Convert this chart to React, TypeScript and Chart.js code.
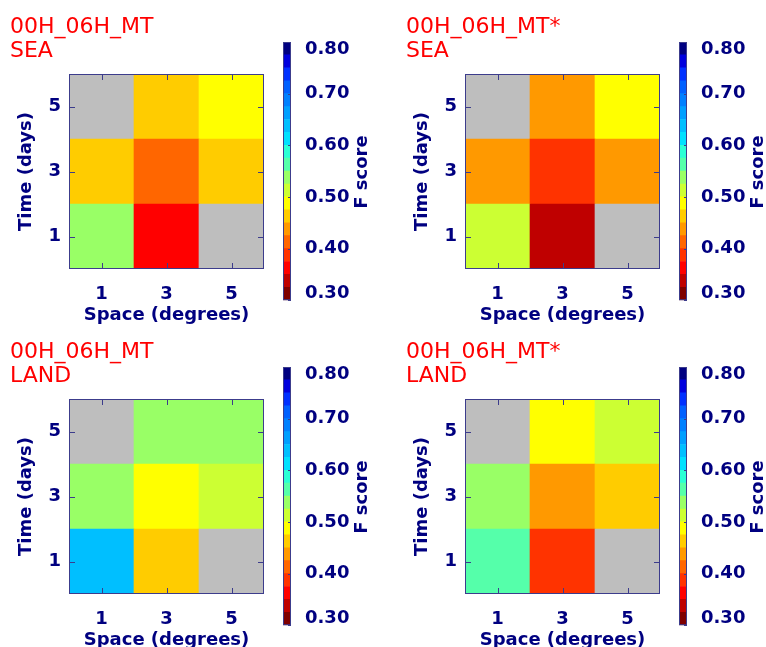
import React, { useEffect, useRef } from 'react';
import { Chart, registerables } from 'chart.js';
Chart.register(...registerables);

// ---- data ----
const spaceLabels = ['1', '3', '5'];
const timeLabels = ['1', '3', '5'];
const cbTicks = [0.3, 0.4, 0.5, 0.6, 0.7, 0.8];
const cbMin = 0.3;
const cbStep = 0.025;
const palette = [
  '#7f0000', '#bf0000', '#ff0000', '#ff3300', '#ff6600',
  '#ff9900', '#ffcc00', '#ffff00', '#ccff33', '#99ff66',
  '#55ffaa', '#2affd5', '#00e0ff', '#00bfff', '#009fff',
  '#0080ff', '#0060ff', '#0030ff', '#0000dd', '#000080',
];
const missingColor = '#bebebe';

// rows: time 1, 3, 5 ; columns: space 1, 3, 5 ; null = no data
const seaMT_t1 = [0.54, 0.36, null];
const seaMT_t3 = [0.46, 0.41, 0.46];
const seaMT_t5 = [null, 0.47, 0.49];

const seaMTs_t1 = [0.51, 0.34, null];
const seaMTs_t3 = [0.44, 0.39, 0.44];
const seaMTs_t5 = [null, 0.44, 0.49];

const landMT_t1 = [0.64, 0.46, null];
const landMT_t3 = [0.54, 0.49, 0.51];
const landMT_t5 = [null, 0.54, 0.54];

const landMTs_t1 = [0.56, 0.39, null];
const landMTs_t3 = [0.54, 0.44, 0.46];
const landMTs_t5 = [null, 0.49, 0.51];

const navy = '#000080';
const frameColor = '#3c3c8c';
const axisFont = { family: 'DejaVu Sans', size: 18, weight: 'bold' as const };

function colorFor(v: number | null): string {
  if (v === null || v === undefined) return missingColor;
  let k = Math.floor((v - cbMin) / cbStep + 1e-9);
  if (k < 0) k = 0;
  if (k > palette.length - 1) k = palette.length - 1;
  return palette[k];
}

const framePlugin = {
  id: 'frame',
  afterDatasetsDraw(chart: any) {
    const { ctx, chartArea: a, scales } = chart;
    ctx.save();
    ctx.strokeStyle = frameColor;
    ctx.lineWidth = 1;
    ctx.strokeRect(a.left + 0.5, a.top + 0.5, a.right - a.left - 1, a.bottom - a.top - 1);
    ctx.beginPath();
    spaceLabels.forEach((_, i) => {
      const x = Math.round(scales.x.getPixelForValue(i)) + 0.5;
      ctx.moveTo(x, a.bottom); ctx.lineTo(x, a.bottom - 6);
      ctx.moveTo(x, a.top); ctx.lineTo(x, a.top + 6);
    });
    timeLabels.forEach((_, i) => {
      const y = Math.round(scales.y.getPixelForValue(i + 0.5)) + 0.5;
      ctx.moveTo(a.left, y); ctx.lineTo(a.left + 6, y);
      ctx.moveTo(a.right, y); ctx.lineTo(a.right - 6, y);
    });
    ctx.stroke();
    ctx.restore();
  },
};

function makeTitlePlugin(line1: string, line2: string) {
  return {
    id: 'panelTitle',
    afterDraw(chart: any) {
      const { ctx } = chart;
      ctx.save();
      ctx.fillStyle = '#ff0000';
      ctx.font = '22px "DejaVu Sans"';
      ctx.textAlign = 'left';
      ctx.textBaseline = 'alphabetic';
      ctx.fillText(line1, 10, 33);
      ctx.fillText(line2, 10, 57);
      ctx.restore();
    },
  };
}

const cbPlugin = {
  id: 'cbExtras',
  beforeDraw(chart: any) {
    const s = chart.scales.y;
    const items = s.getLabelItems();
    if (items && items.length && !(items as any)._nudged) {
      items[0].options.translation[1] -= 7;
      items[items.length - 1].options.translation[1] += 7;
      (items as any)._nudged = true;
    }
  },
  afterDraw(chart: any) {
    const { ctx, chartArea: a, scales } = chart;
    ctx.save();
    ctx.strokeStyle = frameColor;
    ctx.lineWidth = 1;
    ctx.strokeRect(a.left + 0.5, a.top + 0.5, a.right - a.left - 1, a.bottom - a.top - 1);
    ctx.beginPath();
    cbTicks.forEach((v) => {
      const y = Math.round(scales.y.getPixelForValue(v)) + 0.5;
      ctx.moveTo(a.right, y); ctx.lineTo(a.right - 3, y);
    });
    ctx.stroke();
    ctx.fillStyle = navy;
    ctx.font = 'bold 18px "DejaVu Sans"';
    ctx.textAlign = 'center';
    ctx.textBaseline = 'middle';
    ctx.translate(92, 172);
    ctx.rotate(-Math.PI / 2);
    ctx.fillText('F score', 0, 0);
    ctx.restore();
  },
};

function Panel(props: { line1: string; line2: string; rows: (number | null)[][]; left: number; top: number }) {
  const heatRef = useRef<HTMLCanvasElement>(null);
  const barRef = useRef<HTMLCanvasElement>(null);
  const { line1, line2, rows, left, top } = props;

  useEffect(() => {
    const heat = new Chart(heatRef.current as HTMLCanvasElement, {
      type: 'bar',
      data: {
        labels: spaceLabels,
        datasets: timeLabels.map((t, r) => ({
          label: 'Time ' + t,
          data: spaceLabels.map(() => [r, r + 1]) as any,
          backgroundColor: spaceLabels.map((_, c) => colorFor(rows[r][c])),
          borderWidth: 0,
          barPercentage: 1,
          categoryPercentage: 1,
          grouped: false,
        })),
      },
      options: {
        responsive: false,
        animation: false,
        devicePixelRatio: 1,
        layout: { padding: { left: 0, top: 74, right: 36, bottom: 0 } },
        plugins: { legend: { display: false }, tooltip: { enabled: false } },
        scales: {
          x: {
            type: 'category',
            offset: true,
            grid: { display: false, drawTicks: false },
            border: { display: false },
            ticks: { color: navy, font: axisFont, padding: 15, maxRotation: 0 },
            title: { display: true, text: 'Space (degrees)', color: navy, font: axisFont, padding: { top: 0, bottom: -1 } },
            afterFit: (s: any) => { s.height = 56; },
          },
          y: {
            type: 'linear',
            min: 0,
            max: 3,
            grid: { display: false, drawTicks: false },
            border: { display: false },
            afterBuildTicks: (s: any) => { s.ticks = timeLabels.map((_, i) => ({ value: i + 0.5 })); },
            ticks: {
              color: navy,
              font: axisFont,
              padding: 8,
              callback: (v: any) => timeLabels[Math.floor(Number(v))],
            },
            title: { display: true, text: 'Time (days)', color: navy, font: axisFont, padding: { top: 16, bottom: 0 } },
            afterFit: (s: any) => { s.width = 69; },
          },
        },
      },
      plugins: [framePlugin, makeTitlePlugin(line1, line2)],
    } as any);

    const cb = new Chart(barRef.current as HTMLCanvasElement, {
      type: 'bar',
      data: {
        labels: ['F score'],
        datasets: palette.map((col, k) => ({
          label: 'bin ' + k,
          data: [[cbMin + k * cbStep, cbMin + (k + 1) * cbStep]] as any,
          backgroundColor: col,
          borderWidth: 0,
          barPercentage: 1,
          categoryPercentage: 1,
          grouped: false,
        })),
      },
      options: {
        responsive: false,
        animation: false,
        devicePixelRatio: 1,
        layout: { padding: { left: 13, top: 42, right: 0, bottom: 23 } },
        plugins: { legend: { display: false }, tooltip: { enabled: false } },
        scales: {
          x: { display: false },
          y: {
            type: 'linear',
            position: 'right',
            min: cbTicks[0],
            max: cbTicks[cbTicks.length - 1],
            grid: { display: false, drawTicks: false },
            border: { display: false },
            afterBuildTicks: (s: any) => { s.ticks = cbTicks.map((v) => ({ value: v })); },
            ticks: { color: navy, font: axisFont, padding: 14, callback: (v: any) => Number(v).toFixed(2) },
            afterFit: (s: any) => { s.width = 105; },
          },
        },
      },
      plugins: [cbPlugin],
    } as any);

    return () => { heat.destroy(); cb.destroy(); };
  }, []);

  return (
    <div style={{ position: 'absolute', left, top, width: 396, height: 325 }}>
      <canvas ref={heatRef} width={300} height={325} style={{ position: 'absolute', left: 0, top: 0, display: 'block' }} />
      <canvas ref={barRef} width={126} height={325} style={{ position: 'absolute', left: 270, top: 0, display: 'block' }} />
    </div>
  );
}

export default function App() {
  return (
    <div style={{ position: 'fixed', left: 0, top: 0, width: 766, height: 647, overflow: 'hidden', background: '#ffffff' }}>
      <Panel line1="00H_06H_MT" line2="SEA" rows={[seaMT_t1, seaMT_t3, seaMT_t5]} left={0} top={0} />
      <Panel line1="00H_06H_MT*" line2="SEA" rows={[seaMTs_t1, seaMTs_t3, seaMTs_t5]} left={396} top={0} />
      <Panel line1="00H_06H_MT" line2="LAND" rows={[landMT_t1, landMT_t3, landMT_t5]} left={0} top={325} />
      <Panel line1="00H_06H_MT*" line2="LAND" rows={[landMTs_t1, landMTs_t3, landMTs_t5]} left={396} top={325} />
    </div>
  );
}
